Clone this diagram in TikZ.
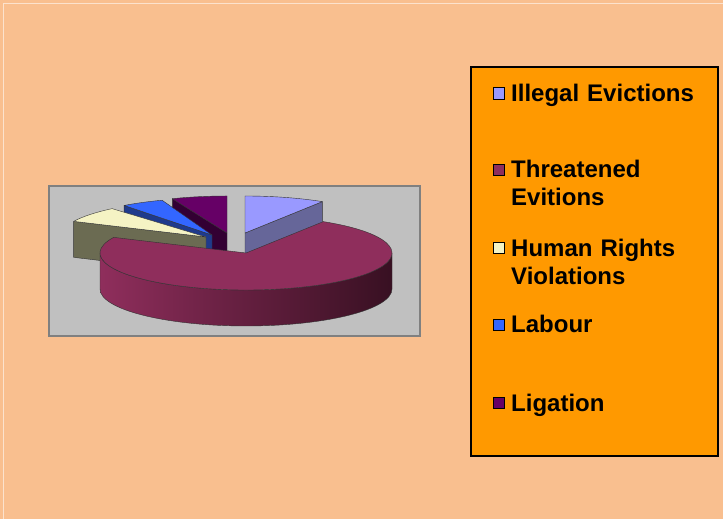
\documentclass[tikz,border=0pt]{standalone}
\usepackage{fontspec}
\setmainfont{Liberation Sans}
\usepackage{xcolor}
\definecolor{cPeach}{HTML}{F9BF8F}
\definecolor{cLegend}{HTML}{FF9900}
\definecolor{cFrame}{HTML}{C0C0C0}
\definecolor{cFrameLine}{HTML}{808080}
\definecolor{cIllegal}{HTML}{9999FF}
\definecolor{cIllegalSide}{HTML}{666699}
\definecolor{cThreat}{HTML}{8F2E5C}
\definecolor{cThreatDark}{HTML}{381022}
\definecolor{cHuman}{HTML}{F5F3C4}
\definecolor{cHumanSide}{HTML}{6B6B52}
\definecolor{cLabour}{HTML}{3366FF}
\definecolor{cLabourSide}{HTML}{1F3A8C}
\definecolor{cLigation}{HTML}{660066}
\definecolor{cLigationSide}{HTML}{330033}
\usepackage{tikz}
\usetikzlibrary{positioning,calc}
\tikzset{
  legend-key/.style={draw=black,line width=1.2pt,minimum size=11.5pt,inner sep=0pt},
  legend-text/.style={anchor=base west,inner sep=0pt,align=left,text width=200pt,
    font=\fontsize{24}{28}\selectfont\bfseries},
  slice-line/.style={draw=black!80,line width=0.4pt,line join=round},
}
% wedge: apex, start, end, top colour, side colour, angle of the visible cut face
\newcommand{\pieWedge}[6]{%
  \path[slice-line,fill=#5] (#1) -- ++(#6:146pt and 37pt) -- ++(0,-36pt)
    -- ($(#1)+(0,-36pt)$) -- cycle;
  \path[slice-line,fill=#4] (#1) -- ++(#2:146pt and 37pt)
    arc[start angle=#2,end angle=#3,x radius=146pt,y radius=37pt] -- cycle;
}

\begin{document}
\begin{tikzpicture}[x=1pt,y=1pt]
  \useasboundingbox (0,0) rectangle (723,519);
  \fill[cPeach] (0,0) rectangle (723,519);
  \draw[white!55!cPeach,line width=1pt] (3.5,0) -- (3.5,515.5) -- (723,515.5);
  % chart area
  \draw[cFrameLine,line width=1.6pt,fill=cFrame] (49,183) rectangle (420,333);
  \coordinate (apex-illegal) at (245,286);
  \coordinate (apex-ligation) at (227,286);
  \coordinate (apex-labour) at (212,284);
  \coordinate (apex-human) at (206,282);
  \coordinate (apex-threat) at (246,266);
  \pieWedge{apex-illegal}{58}{90}{cIllegal}{cIllegalSide}{58}
  \pieWedge{apex-ligation}{90}{112}{cLigation}{cLigationSide}{112}
  \pieWedge{apex-labour}{110}{127}{cLabour}{cLabourSide}{127}
  \pieWedge{apex-human}{130}{155}{cHuman}{cHumanSide}{155}
  % big slice, rim then top
  \shade[left color=cThreat,middle color=cThreat!75!cThreatDark,right color=cThreatDark]
    (apex-threat) ++(180:146pt and 37pt)
    arc[start angle=180,end angle=360,x radius=146pt,y radius=37pt] -- ++(0,-36pt)
    arc[start angle=360,end angle=180,x radius=146pt,y radius=37pt] -- cycle;
  \path[slice-line] (apex-threat) ++(180:146pt and 37pt)
    arc[start angle=180,end angle=360,x radius=146pt,y radius=37pt] -- ++(0,-36pt)
    arc[start angle=360,end angle=180,x radius=146pt,y radius=37pt] -- cycle;
  \path[slice-line,fill=cThreat] (apex-threat) -- ++(155:146pt and 37pt)
    arc[start angle=155,end angle=418,x radius=146pt,y radius=37pt] -- cycle;
  % legend
  \draw[black,line width=1.2pt,fill=cLegend] (471,63) rectangle (718,452);
  \node[legend-key,fill=cIllegal]  (key-illegal)  at (499,425.5) {};
  \node[legend-key,fill=cThreat]   (key-threat)   at (499,349) {};
  \node[legend-key,fill=cHuman]    (key-human)    at (499,271) {};
  \node[legend-key,fill=cLabour]   (key-labour)   at (499,194) {};
  \node[legend-key,fill=cLigation] (key-ligation) at (499,116) {};
  \node[legend-text] (lbl-illegal)  at (511,417) {Illegal Evictions};
  \node[legend-text] (lbl-threat)   at (511,341) {Threatened\\Evitions};
  \node[legend-text] (lbl-human)    at (511,262) {Human Rights\\Violations};
  \node[legend-text] (lbl-labour)   at (511,186) {Labour};
  \node[legend-text] (lbl-ligation) at (511,107) {Ligation};
\end{tikzpicture}
\end{document}
